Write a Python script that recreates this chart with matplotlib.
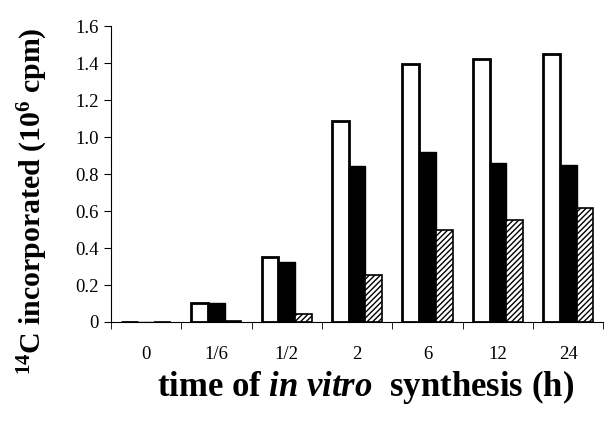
import numpy as np
import matplotlib.pyplot as plt

plt.rcParams['font.family'] = 'Liberation Serif'
plt.rcParams['mathtext.fontset'] = 'custom'
plt.rcParams['mathtext.rm'] = 'Liberation Serif'
plt.rcParams['mathtext.bf'] = 'Liberation Serif:bold'
plt.rcParams['mathtext.it'] = 'Liberation Serif:italic'
plt.rcParams['mathtext.bfit'] = 'Liberation Serif:italic:bold'
plt.rcParams['hatch.linewidth'] = 1.0

times = ['0', '1/6', '1/2', '2', '6', '12', '24']
white_vals = [0, 0.10, 0.353, 1.087, 1.398, 1.42, 1.452]
black_vals = [0, 0.10, 0.323, 0.845, 0.917, 0.858, 0.849]
hatch_vals = [0, 0.008, 0.043, 0.254, 0.496, 0.551, 0.618]

fig = plt.figure(figsize=(6.12, 4.22), dpi=100)
ax = fig.add_axes([0.181, 0.237, 0.805, 0.701])

x = np.arange(len(times))
w = 0.237
ax.bar(x - w, white_vals, w, color='white', edgecolor='black', linewidth=2)
ax.bar(x, black_vals, w, color='black', edgecolor='black', linewidth=1)
ax.bar(x + w, hatch_vals, w, color='white', edgecolor='black', linewidth=1.2, hatch='//////')

ax.set_xlim(-0.5, len(times) - 0.5)
ax.set_ylim(0, 1.6)
ax.set_yticks(np.arange(0, 1.61, 0.2))
ax.set_yticklabels(['0'] + ['%.1f' % v for v in np.arange(0.2, 1.61, 0.2)])
ax.set_xticks(x)
ax.set_xticklabels(times)
ax.set_xticks(np.arange(-0.5, len(times) - 0.4, 1), minor=True)
ax.tick_params(axis='x', which='major', length=0, pad=17, labelsize=13.5)
ax.tick_params(axis='x', which='minor', length=5, direction='out')
ax.tick_params(axis='y', length=5, direction='out', labelsize=13.5)

ax.spines['top'].set_visible(False)
ax.spines['right'].set_visible(False)

fig.text(0.597, 0.083, r'time of $\mathbfit{in\ vitro}$  synthesis (h)', fontsize=25,
         fontweight='bold', ha='center', va='center')
fig.text(0.054, 0.522, r'$\mathbf{{}^{14}C\ incorporated\ (10^{6}\ cpm)}$', fontsize=21.5,
         rotation=90, ha='center', va='center')

fig.savefig('out.png', dpi=100)
